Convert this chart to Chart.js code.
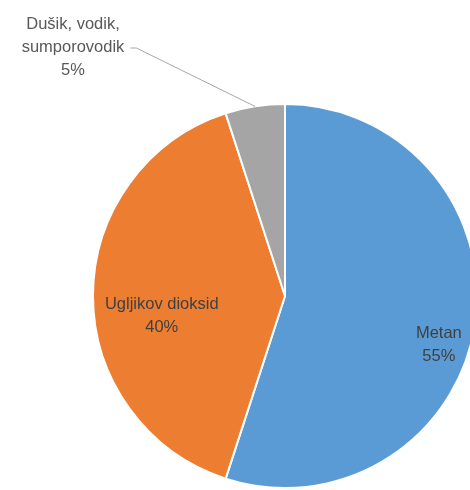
<!DOCTYPE html>
<html>
<head>
<meta charset="utf-8">
<script src="https://cdn.jsdelivr.net/npm/chart.js@4"></script>
<style>
html,body{margin:0;padding:0;background:#fff;overflow:hidden;}
#wrap{position:absolute;left:0;top:0;width:490px;height:490px;}
</style>
</head>
<body>
<div id="wrap"><canvas id="c" width="490" height="490"></canvas></div>
<script>
const categories = ['Metan', 'Ugljikov dioksid', 'Dušik, vodik, sumporovodik'];
const labelLines = [['Metan'], ['Ugljikov dioksid'], ['Dušik, vodik,', 'sumporovodik']];
const values = [55, 40, 5];
const percentLabels = ['55%', '40%', '5%'];
const colors = ['#5B9BD5', '#ED7D31', '#A5A5A5'];

const labelPlugin = {
  id: 'pieLabels',
  afterDatasetsDraw(chart, args, opts) {
    const ctx = chart.ctx;
    const meta = chart.getDatasetMeta(0);
    ctx.save();
    ctx.font = '16.5px "Liberation Sans", Arial, sans-serif';
    ctx.textAlign = 'center';
    ctx.textBaseline = 'middle';
    const lh = 23;
    meta.data.forEach((arc, i) => {
      const p = arc.getProps(['x', 'y', 'startAngle', 'endAngle', 'outerRadius'], true);
      const place = opts.place[i];
      const mid = (p.startAngle + p.endAngle) / 2 + place.da * Math.PI / 180;
      const lines = labelLines[i].concat([percentLabels[i]]);
      let cx, cy;
      if (place.outside) {
        const ex = p.x + Math.cos(mid) * p.outerRadius;
        const ey = p.y + Math.sin(mid) * p.outerRadius;
        cx = p.x + place.dx;
        cy = p.y + place.dy;
        const tw = ctx.measureText(lines[1]).width;
        ctx.strokeStyle = '#A6A6A6';
        ctx.lineWidth = 1;
        ctx.beginPath();
        ctx.moveTo(ex, ey);
        ctx.lineTo(cx + tw / 2 + 12, cy + 1);
        ctx.lineTo(cx + tw / 2 + 6, cy + 1);
        ctx.stroke();
        ctx.fillStyle = '#595959';
      } else {
        cx = p.x + Math.cos(mid) * p.outerRadius * place.r;
        cy = p.y + Math.sin(mid) * p.outerRadius * place.r;
        ctx.fillStyle = '#404040';
      }
      const y0 = cy - (lines.length - 1) * lh / 2;
      lines.forEach((t, k) => ctx.fillText(t, cx, y0 + k * lh));
    });
    ctx.restore();
  }
};

new Chart(document.getElementById('c'), {
  type: 'pie',
  data: {
    labels: categories,
    datasets: [{
      data: values,
      backgroundColor: colors,
      borderColor: '#ffffff',
      borderWidth: 2,
      radius: 192
    }]
  },
  options: {
    responsive: false,
    animation: false,
    events: [],
    layout: { padding: { left: 80, right: 0, top: 102, bottom: 0 } },
    plugins: {
      legend: { display: false },
      tooltip: { enabled: false },
      pieLabels: {
        place: [
          { r: 0.84, da: 8.5 },
          { r: 0.65, da: -9 },
          { outside: true, da: 0, dx: -212, dy: -249 }
        ]
      }
    }
  },
  plugins: [labelPlugin]
});
</script>
</body>
</html>
